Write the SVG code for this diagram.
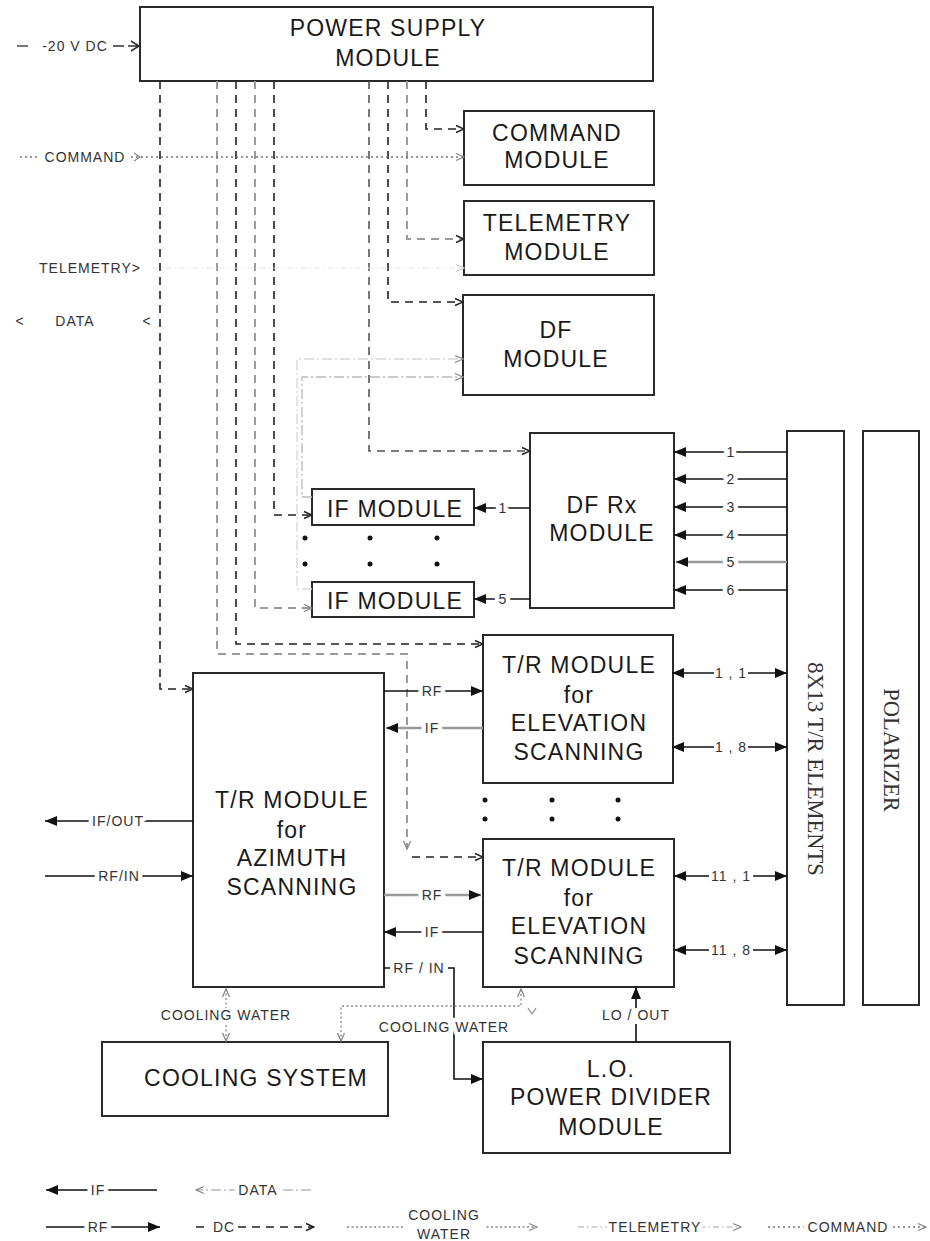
<svg xmlns="http://www.w3.org/2000/svg" width="930" height="1241" viewBox="0 0 930 1241">
<style>
.box{fill:#fff;stroke:#2a2a2a;stroke-width:2}
.t{font-family:"Liberation Sans",Arial,sans-serif;font-size:23px;letter-spacing:1.2px;fill:#1a1a1a;text-anchor:middle}
.s{font-family:"Liberation Sans",Arial,sans-serif;font-size:14px;letter-spacing:1px;fill:#333;text-anchor:middle}
.v{font-family:"Liberation Serif","Times New Roman",serif;font-size:22.5px;fill:#333;text-anchor:middle}
.lbl{paint-order:stroke;stroke:#fff;stroke-width:9px;stroke-linejoin:round}
.bg{fill:#fff}
.dc{fill:none;stroke:#222;stroke-width:1.6;stroke-dasharray:8 6}
.dcg{fill:none;stroke:#9a9a9a;stroke-width:2;stroke-dasharray:8 6}
.dcm{fill:none;stroke:#555;stroke-width:1.6;stroke-dasharray:8 6}
.rf{fill:none;stroke:#111;stroke-width:1.6}
.rfg{fill:none;stroke:#999;stroke-width:2.6}
.cmd{fill:none;stroke:#777;stroke-width:1.4;stroke-dasharray:2 3}
.cool{fill:none;stroke:#888;stroke-width:1.3;stroke-dasharray:2 2.5}
.tel{fill:none;stroke:#aaa;stroke-width:1.2;stroke-dasharray:6 3 1.5 3}
.telf{fill:none;stroke:#e4e4e4;stroke-width:1.2;stroke-dasharray:6 3 1.5 3}
.data{fill:none;stroke:#bbb;stroke-width:1.3;stroke-dasharray:10 3 2 3}
.datal{fill:none;stroke:#d6d6d6;stroke-width:1.3;stroke-dasharray:10 3 2 3}
.dot{fill:#111}
</style>
<defs>
<marker id="ao" viewBox="0 0 10 10" refX="9" refY="5" markerWidth="10" markerHeight="10" markerUnits="userSpaceOnUse" orient="auto-start-reverse"><path d="M1,1.5 L9,5 L1,8.5" fill="none" stroke="#222" stroke-width="1.4"/></marker>
<marker id="aog" viewBox="0 0 10 10" refX="9" refY="5" markerWidth="10" markerHeight="10" markerUnits="userSpaceOnUse" orient="auto-start-reverse"><path d="M1,1.5 L9,5 L1,8.5" fill="none" stroke="#888" stroke-width="1.3"/></marker>
<marker id="aol" viewBox="0 0 10 10" refX="9" refY="5" markerWidth="10" markerHeight="10" markerUnits="userSpaceOnUse" orient="auto-start-reverse"><path d="M1,1.5 L9,5 L1,8.5" fill="none" stroke="#ccc" stroke-width="1.3"/></marker>
<marker id="af" viewBox="0 0 12 10" refX="12" refY="5" markerWidth="12" markerHeight="10" markerUnits="userSpaceOnUse" orient="auto-start-reverse"><path d="M0,0 L12,5 L0,10 Z" fill="#111"/></marker>
</defs>

<g id="power-supply"><rect class="box" x="140" y="7" width="513" height="74"/><text class="t" x="388" y="36">POWER SUPPLY</text><text class="t" x="388" y="66">MODULE</text></g>
<g id="command-module"><rect class="box" x="464" y="111" width="190" height="74"/><text class="t" x="557" y="141">COMMAND</text><text class="t" x="557" y="168">MODULE</text></g>
<g id="telemetry-module"><rect class="box" x="464" y="201" width="190" height="74"/><text class="t" x="557" y="231">TELEMETRY</text><text class="t" x="557" y="260">MODULE</text></g>
<g id="df-module"><rect class="box" x="463" y="295" width="191" height="100"/><text class="t" x="556" y="338">DF</text><text class="t" x="556" y="367">MODULE</text></g>
<g id="df-rx-module"><rect class="box" x="530" y="433" width="144" height="175"/><text class="t" x="602" y="513">DF Rx</text><text class="t" x="602" y="541">MODULE</text></g>
<g id="if-module-1"><rect class="box" x="312" y="489" width="162" height="36"/><text class="t" x="395" y="517">IF MODULE</text></g>
<g id="if-module-5"><rect class="box" x="312" y="582" width="162" height="35"/><text class="t" x="395" y="609">IF MODULE</text></g>
<g id="tr-azimuth"><rect class="box" x="193" y="673" width="191" height="314"/><text class="t" x="292" y="808">T/R MODULE</text><text class="t" x="292" y="838">for</text><text class="t" x="292" y="866">AZIMUTH</text><text class="t" x="292" y="895">SCANNING</text></g>
<g id="tr-elevation-1"><rect class="box" x="483" y="635" width="190" height="148"/><text class="t" x="579" y="673">T/R MODULE</text><text class="t" x="579" y="703">for</text><text class="t" x="579" y="731">ELEVATION</text><text class="t" x="579" y="760">SCANNING</text></g>
<g id="tr-elevation-11"><rect class="box" x="483" y="839" width="191" height="148"/><text class="t" x="579" y="876">T/R MODULE</text><text class="t" x="579" y="906">for</text><text class="t" x="579" y="934">ELEVATION</text><text class="t" x="579" y="964">SCANNING</text></g>
<g id="tr-elements"><rect class="box" x="787" y="431" width="57" height="574"/><text class="v" transform="translate(815,769) rotate(90)" dominant-baseline="central">8X13  T/R ELEMENTS</text></g>
<g id="polarizer"><rect class="box" x="863" y="431" width="56" height="574"/><text class="v" transform="translate(891,750) rotate(90)" dominant-baseline="central">POLARIZER</text></g>
<g id="cooling-system"><rect class="box" x="102" y="1042" width="286" height="74"/><text class="t" x="256" y="1086">COOLING SYSTEM</text></g>
<g id="lo-power-divider"><rect class="box" x="483" y="1042" width="247" height="111"/><text class="t" x="611" y="1077">L.O.</text><text class="t" x="611" y="1105">POWER DIVIDER</text><text class="t" x="611" y="1135">MODULE</text></g>

<g id="connectors">
<!-- DC from power supply -->
<path class="dc" d="M160,81 V689 H193" marker-end="url(#ao)"/>
<path class="dcg" d="M217,81 V654 H407 V849" marker-end="url(#aog)"/>
<path class="dc" d="M412,857 H483" marker-end="url(#ao)"/>
<path class="dc" d="M236,81 V644 H483" marker-end="url(#ao)"/>
<path class="dcg" d="M255,81 V608 H312" marker-end="url(#aog)"/>
<path class="dc" d="M274,81 V515 H312" marker-end="url(#ao)"/>
<path class="dcm" d="M369,81 V451 H530" marker-end="url(#ao)"/>
<path class="dc" d="M388,81 V302 H463" marker-end="url(#ao)"/>
<path class="dcg" d="M407,81 V239 H464" marker-end="url(#ao)"/>
<path class="dc" d="M426,81 V129 H464" marker-end="url(#ao)"/>
<!-- DC input -->
<path d="M17,46 H28" fill="none" stroke="#555" stroke-width="1.6"/>
<text class="s" x="75" y="51">-20 V DC</text>
<path d="M113,46 H124 M128,46 H139 M131,41 L139,46 L131,51" fill="none" stroke="#333" stroke-width="1.6"/>
<!-- command -->
<path class="cmd" d="M20,157 H40"/>
<text class="s" x="85" y="162">COMMAND</text>
<path class="cmd" d="M131,157 H464" marker-end="url(#aog)"/>
<path d="M134,153 L140,157 L134,161" fill="none" stroke="#888" stroke-width="1.2"/>
<!-- telemetry -->
<text class="s" x="90" y="273">TELEMETRY&gt;</text>
<path class="telf" d="M152,268 H464" marker-end="url(#aol)"/>
<!-- data -->
<text class="s" x="20" y="326">&lt;</text>
<text class="s" x="75" y="326">DATA</text>
<text class="s" x="147" y="326">&lt;</text>
<path class="data" d="M312,497 H302 V377 H463" marker-end="url(#aog)"/>
<path class="datal" d="M312,589 H297 V359 H463" marker-end="url(#aog)"/>
<!-- DF Rx to IF modules -->
<path class="rf" d="M530,508 H474" marker-end="url(#af)"/>
<text class="s lbl" x="503" y="513">1</text>
<path class="rf" d="M530,599 H474" marker-end="url(#af)"/>
<text class="s lbl" x="503" y="604">5</text>
<!-- T/R elements to DF Rx -->
<path class="rf" d="M787,452 H674" marker-end="url(#af)"/><text class="s lbl" x="731" y="457">1</text>
<path class="rf" d="M787,479 H674" marker-end="url(#af)"/><text class="s lbl" x="731" y="484">2</text>
<path class="rf" d="M787,507 H674" marker-end="url(#af)"/><text class="s lbl" x="731" y="512">3</text>
<path class="rf" d="M787,535 H674" marker-end="url(#af)"/><text class="s lbl" x="731" y="540">4</text>
<path class="rfg" d="M787,562 H676" marker-end="url(#af)"/><text class="s lbl" x="731" y="567">5</text>
<path class="rf" d="M787,590 H674" marker-end="url(#af)"/><text class="s lbl" x="731" y="595">6</text>
<!-- azimuth to elevation -->
<path class="rf" d="M384,691 H483" marker-end="url(#af)"/><text class="s lbl" x="432" y="696">RF</text>
<path class="rfg" d="M483,728 H386" marker-end="url(#af)"/><text class="s lbl" x="432" y="733">IF</text>
<path class="rfg" d="M384,895 H481" marker-end="url(#af)"/><text class="s lbl" x="432" y="900">RF</text>
<path class="rf" d="M483,932 H384" marker-end="url(#af)"/><text class="s lbl" x="432" y="937">IF</text>
<!-- elevation to elements -->
<path class="rf" d="M672,673 H787" marker-start="url(#af)" marker-end="url(#af)"/><rect class="bg" x="714" y="666" width="34" height="14"/><text class="s" x="731" y="678">1 , 1</text>
<path class="rf" d="M672,747 H787" marker-start="url(#af)" marker-end="url(#af)"/><rect class="bg" x="714" y="740" width="34" height="14"/><text class="s" x="731" y="752">1 , 8</text>
<path class="rf" d="M674,876 H787" marker-start="url(#af)" marker-end="url(#af)"/><rect class="bg" x="709" y="869" width="44" height="14"/><text class="s" x="731" y="881">11 , 1</text>
<path class="rf" d="M674,950 H787" marker-start="url(#af)" marker-end="url(#af)"/><rect class="bg" x="709" y="943" width="44" height="14"/><text class="s" x="731" y="955">11 , 8</text>
<!-- azimuth external -->
<path class="rf" d="M193,821 H45" marker-end="url(#af)"/><text class="s lbl" x="118" y="826">IF/OUT</text>
<path class="rf" d="M45,876 H193" marker-end="url(#af)"/><text class="s lbl" x="119" y="881">RF/IN</text>
<!-- RF/IN to LO, LO/OUT -->
<path class="rf" d="M384,968 H454 V1079 H483" marker-end="url(#af)"/><rect class="bg" x="390" y="961" width="58" height="14"/><text class="s" x="419" y="973">RF / IN</text>
<path class="rf" d="M636,1042 V987" marker-end="url(#af)"/><rect class="bg" x="600" y="1008" width="72" height="16"/><text class="s" x="636" y="1020">LO / OUT</text>
<!-- cooling water -->
<path class="cool" d="M226,989 V1041" marker-start="url(#aog)" marker-end="url(#aog)"/>
<rect class="bg" x="160" y="1008" width="132" height="16"/><text class="s" x="226" y="1020">COOLING WATER</text>
<path class="cool" d="M341,1041 V1006 H521 V989" marker-start="url(#aog)" marker-end="url(#aog)"/>
<path d="M528,1008 L532,1014 L536,1008" fill="none" stroke="#888" stroke-width="1.2"/>
<text class="s lbl" x="444" y="1032">COOLING WATER</text>
<!-- continuation dots -->
<circle class="dot" cx="305" cy="538" r="2.5"/><circle class="dot" cx="370" cy="538" r="2.5"/><circle class="dot" cx="437" cy="538" r="2.5"/>
<circle class="dot" cx="305" cy="564" r="2.5"/><circle class="dot" cx="370" cy="564" r="2.5"/><circle class="dot" cx="437" cy="564" r="2.5"/>
<circle class="dot" cx="485" cy="800" r="2.5"/><circle class="dot" cx="552" cy="800" r="2.5"/><circle class="dot" cx="618" cy="800" r="2.5"/>
<circle class="dot" cx="485" cy="819" r="2.5"/><circle class="dot" cx="552" cy="819" r="2.5"/><circle class="dot" cx="618" cy="819" r="2.5"/>
</g>

<g id="legend">
<path class="rf" d="M157,1190 H46" marker-end="url(#af)"/><text class="s lbl" x="98" y="1195">IF</text>
<path class="data" d="M311,1190 H196" marker-end="url(#aog)"/><text class="s lbl" x="258" y="1195">DATA</text>
<path class="rf" d="M46,1227 H160" marker-end="url(#af)"/><text class="s lbl" x="98" y="1232">RF</text>
<path class="dc" d="M196,1227 H314" marker-end="url(#ao)"/><text class="s lbl" x="224" y="1232">DC</text>
<path class="cool" d="M347,1227 H537" marker-end="url(#aog)"/>
<rect class="bg" x="404" y="1208" width="82" height="33"/>
<text class="s" x="444" y="1220" font-size="13">COOLING</text><text class="s" x="444" y="1239" font-size="13">WATER</text>
<path class="tel" d="M578,1227 H741" marker-end="url(#aog)"/><text class="s lbl" x="655" y="1232">TELEMETRY</text>
<path class="cmd" d="M768,1227 H926" marker-end="url(#aog)"/><text class="s lbl" x="848" y="1232">COMMAND</text>
</g>
</svg>
